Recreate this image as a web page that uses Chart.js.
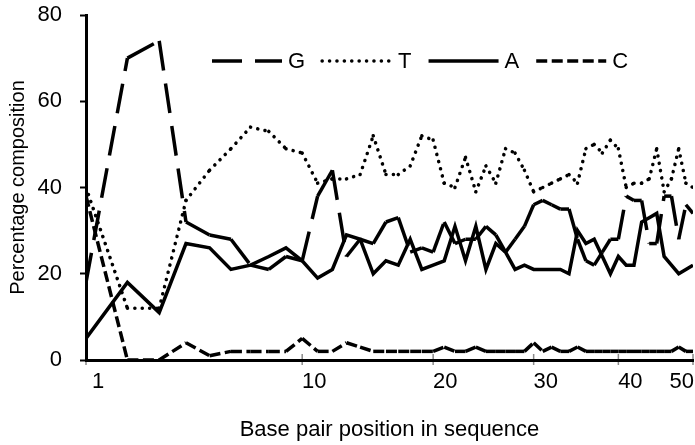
<!DOCTYPE html>
<html>
<head>
<meta charset="utf-8">
<script src="https://cdn.jsdelivr.net/npm/chart.js@4/dist/chart.umd.min.js"></script>
<style>
html,body{margin:0;padding:0;background:#fff;}
canvas{display:block;}
</style>
</head>
<body>
<canvas id="c" width="695" height="445"></canvas>
<script>
// ---- data ----
const positions = [1,2,3,4,5,6,7,8,9,10,11,12,13,14,15,16,17,18,19,20,21,22,23,24,25,26,27,28,29,30,31,32,33,34,35,36,37,38,39,40,41,42,43,44,45,46,47,48,49,50];
const xTickValues = [1, 10, 20, 30, 40, 50];
const yTickValues = [0, 20, 40, 60, 80];
const seriesNames = ['G', 'T', 'A', 'C'];
const valuesG = [18,70,74,32,29,28,22,21,24,23, 38,44,24,28,27,32,33,25,26,25, 32,27,28,28,31,29,25,28,31,36, 37,36,35,35,28,23,22,25,28,28, 38,37,37,27,27,38,38,28,36,34];
const valuesT = [40,12,12,37,44,49,54,53,49,48, 41,42,42,43,52,43,43,45,52,51, 41,40,47,39,45,41,49,48,44,39, 40,41,42,43,41,49,50,48,51,49, 40,41,41,42,49,39,42,49,41,40];
const valuesA = [5,18,11,27,26,21,22,24,26,23, 19,21,29,28,20,23,22,28,21,22, 23,31,23,31,21,27,25,21,22,21, 21,21,21,20,30,27,28,24,20,24, 22,22,32,33,34,24,22,20,21,22];
const valuesC = [38,0,0,4,1,2,2,2,2,5, 2,2,4,3,2,2,2,2,2,2, 3,2,2,3,2,2,2,2,2,4, 2,3,2,2,3,2,2,2,2,2, 2,2,2,2,2,2,2,3,2,2];

const FONT = '"Liberation Sans", Arial, sans-serif';
Chart.defaults.font.family = FONT;
Chart.defaults.color = '#000';

// ---- square-root x scale ----
class SqrtScale extends Chart.LinearScale {
  static id = 'sqrt';
  static defaults = Chart.LinearScale.defaults;
  buildTicks() { return xTickValues.map(v => ({ value: v })); }
  getPixelForValue(value) {
    const a = Math.sqrt(this.min), b = Math.sqrt(this.max);
    return this.getPixelForDecimal((Math.sqrt(value) - a) / (b - a));
  }
  getValueForPixel(pixel) {
    const a = Math.sqrt(this.min), b = Math.sqrt(this.max);
    const s = a + this.getDecimalForPixel(pixel) * (b - a);
    return s * s;
  }
  getLabelItems(chartArea) {
    const items = super.getLabelItems(chartArea);
    if (!items._clamped) {
      const ctx = this.ctx, W = this.chart.width;
      ctx.save();
      items.forEach(it => {
        ctx.font = it.font.string;
        const w = ctx.measureText(it.label).width;
        let x = it.options.translation[0];
        if (x + w / 2 > W - 1) x = W - 1 - w / 2;
        it.options.translation[0] = x;
      });
      ctx.restore();
      items._clamped = true;
    }
    return items;
  }
}
Chart.register(SqrtScale);

// restart the dash pattern at every data point (as in the reference)
const restartDash = { borderDashOffset: c => (c.p0DataIndex % 2) * 0.0001 };

function pts(vals) { return positions.map((p, i) => ({ x: p, y: vals[i] })); }

const styles = {
  G: { borderDash: [30, 13], borderCapStyle: 'butt', segment: restartDash },
  T: { borderDash: [0.1, 7.3], borderCapStyle: 'round', segment: restartDash },
  A: { borderDash: [], borderCapStyle: 'butt' },
  C: { borderDash: [11, 4.5], borderCapStyle: 'butt', segment: restartDash }
};
const valueMap = { G: valuesG, T: valuesT, A: valuesA, C: valuesC };

const datasets = seriesNames.map(n => Object.assign({
  label: n,
  data: pts(valueMap[n]),
  borderColor: '#000',
  backgroundColor: '#000',
  borderWidth: 3.5,
  borderJoinStyle: 'miter',
  pointRadius: 0,
  tension: 0,
  fill: false
}, styles[n]));

// grey tick crosses on the x axis, drawn underneath the axis line
const xTickMarks = {
  id: 'xTickMarks',
  beforeDraw(chart) {
    const s = chart.scales.x, ctx = chart.ctx, b = chart.chartArea.bottom;
    ctx.save();
    ctx.strokeStyle = '#8a8a8a';
    ctx.lineWidth = 1.5;
    s.ticks.forEach((t, i) => {
      const px = s.getPixelForTick(i);
      ctx.beginPath();
      ctx.moveTo(px, b - 6);
      ctx.lineTo(px, b + 5);
      ctx.stroke();
    });
    ctx.restore();
  }
};

// legend inside the plot area
const insideLegend = {
  id: 'insideLegend',
  afterDatasetsDraw(chart) {
    const ctx = chart.ctx, ca = chart.chartArea;
    let x = ca.left + 126;
    const y = ca.top + 46;
    const lineLen = 70;
    ctx.save();
    ctx.font = '22px ' + FONT;
    ctx.textBaseline = 'middle';
    ctx.fillStyle = '#000';
    chart.data.datasets.forEach(ds => {
      ctx.strokeStyle = ds.borderColor;
      ctx.lineWidth = ds.borderWidth;
      ctx.setLineDash(ds.borderDash || []);
      ctx.lineCap = ds.borderCapStyle || 'butt';
      ctx.beginPath();
      ctx.moveTo(x, y);
      ctx.lineTo(x + lineLen, y);
      ctx.stroke();
      ctx.setLineDash([]);
      const tx = x + lineLen + 6;
      ctx.fillText(ds.label, tx, y + 1);
      x = tx + ctx.measureText(ds.label).width + 17;
    });
    ctx.restore();
  }
};

new Chart(document.getElementById('c'), {
  type: 'line',
  data: { datasets },
  plugins: [xTickMarks, insideLegend],
  options: {
    responsive: false,
    animation: false,
    devicePixelRatio: 1,
    layout: { padding: { top: 15, right: 2, left: 0, bottom: 0 } },
    plugins: { legend: { display: false }, tooltip: { enabled: false } },
    scales: {
      x: {
        type: 'sqrt',
        min: 1,
        max: 50,
        grid: { display: true, drawOnChartArea: false, drawTicks: false },
        border: { display: true, color: '#000', width: 3 },
        ticks: {
          autoSkip: false, maxRotation: 0, minRotation: 0,
          padding: 9, labelOffset: 12,
          font: { size: 22 }, color: '#000'
        },
        title: {
          display: true, text: 'Base pair position in sequence',
          font: { size: 22 }, color: '#000', padding: { top: 0, bottom: 2 }
        },
        afterFit: s => { s.height = 85; s.paddingLeft = 0; s.paddingRight = 0; }
      },
      y: {
        type: 'linear',
        min: 0,
        max: 80,
        afterBuildTicks: s => { s.ticks = yTickValues.map(v => ({ value: v })); },
        grid: { display: true, drawOnChartArea: false, drawTicks: true, tickLength: 6, tickWidth: 2, tickColor: '#000' },
        border: { display: true, color: '#000', width: 3 },
        ticks: { padding: 18, font: { size: 22 }, color: '#000' },
        title: {
          display: true, text: 'Percentage composition',
          font: { size: 20 }, color: '#000', padding: { top: 6, bottom: 0 }
        },
        afterFit: s => { s.width = 86; s.paddingTop = 0; s.paddingBottom = 0; }
      }
    }
  }
});
</script>
</body>
</html>
